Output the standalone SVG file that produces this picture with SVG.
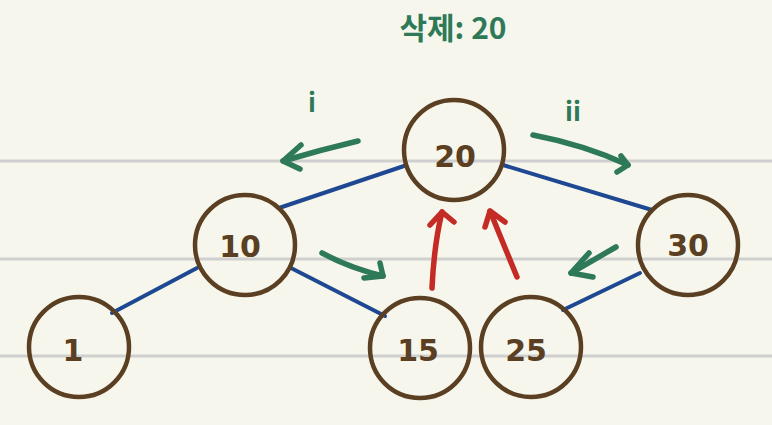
<svg xmlns="http://www.w3.org/2000/svg" width="772" height="425" viewBox="0 0 772 425">
<defs>
<style>
.bg{fill:#f7f6ec}
.rule{stroke:#cfcfcf;stroke-width:3}
.edge{stroke:#1f4893;stroke-width:4;stroke-linecap:round;fill:none}
.node circle{fill:none;stroke:#5a3f22;stroke-width:4.5}
.node text{font-family:"DejaVu Sans","Liberation Sans",sans-serif;font-size:30px;fill:#5a3f22;text-anchor:middle;dominant-baseline:central;font-weight:bold}
.g{stroke:#2e7a58;stroke-width:5.5;stroke-linecap:round;stroke-linejoin:round;fill:none}
.r{stroke:#c42b25;stroke-width:5.5;stroke-linecap:round;stroke-linejoin:round;fill:none}
.lbl{font-family:"Noto Sans CJK KR","Noto Sans",sans-serif;font-weight:bold;fill:#2e7a58;text-anchor:middle;dominant-baseline:central}
</style>
</defs>
<rect class="bg" width="772" height="425"/>
<g id="rules">
<line class="rule" x1="0" y1="161" x2="772" y2="161"/>
<line class="rule" x1="0" y1="259" x2="772" y2="259"/>
<line class="rule" x1="0" y1="356" x2="772" y2="356"/>
</g>
<g id="connectors">
<line class="edge" x1="404" y1="166" x2="279" y2="208"/>
<line class="edge" x1="503" y1="165" x2="652" y2="210"/>
<line class="edge" x1="197" y1="268" x2="112" y2="313"/>
<line class="edge" x1="291" y1="268" x2="385" y2="316"/>
<line class="edge" x1="640" y1="273" x2="563" y2="310"/>
</g>
<g id="annotations">
<path class="g" d="M358,141 Q320,150 283,161"/>
<path class="g" d="M301,145 L283,161 L300,169"/>
<path class="g" d="M533,135 Q585,145 628,165"/>
<path class="g" d="M621,156 L628,165 L617,172"/>
<path class="g" d="M322,253 Q350,268 383,276"/>
<path class="g" d="M380,263 L383,276 L364,278"/>
<path class="g" d="M616,247 Q590,262 571,273"/>
<path class="g" d="M589,253 L571,273 L593,277"/>
<path class="r" d="M432,288 Q434,245 442,212"/>
<path class="r" d="M430,225 L442,212 L454,222"/>
<path class="r" d="M517,277 Q502,240 490,211"/>
<path class="r" d="M485,227 L490,211 L505,222"/>
<text class="lbl" x="453" y="26" font-size="30">삭제: 20</text>
<text class="lbl" x="312" y="100" font-size="26">i</text>
<text class="lbl" x="573" y="109" font-size="26">ii</text>
</g>
<g id="node-20" class="node"><circle cx="454" cy="150" r="50"/><text x="455" y="156">20</text></g>
<g id="node-10" class="node"><circle cx="245" cy="245" r="50"/><text x="240" y="246">10</text></g>
<g id="node-30" class="node"><circle cx="688" cy="245" r="50"/><text x="688" y="245">30</text></g>
<g id="node-1" class="node"><circle cx="79" cy="347" r="50"/><text x="73" y="350">1</text></g>
<g id="node-15" class="node"><circle cx="420" cy="348" r="50"/><text x="418" y="350">15</text></g>
<g id="node-25" class="node"><circle cx="531" cy="347" r="50"/><text x="526" y="350">25</text></g>
</svg>
